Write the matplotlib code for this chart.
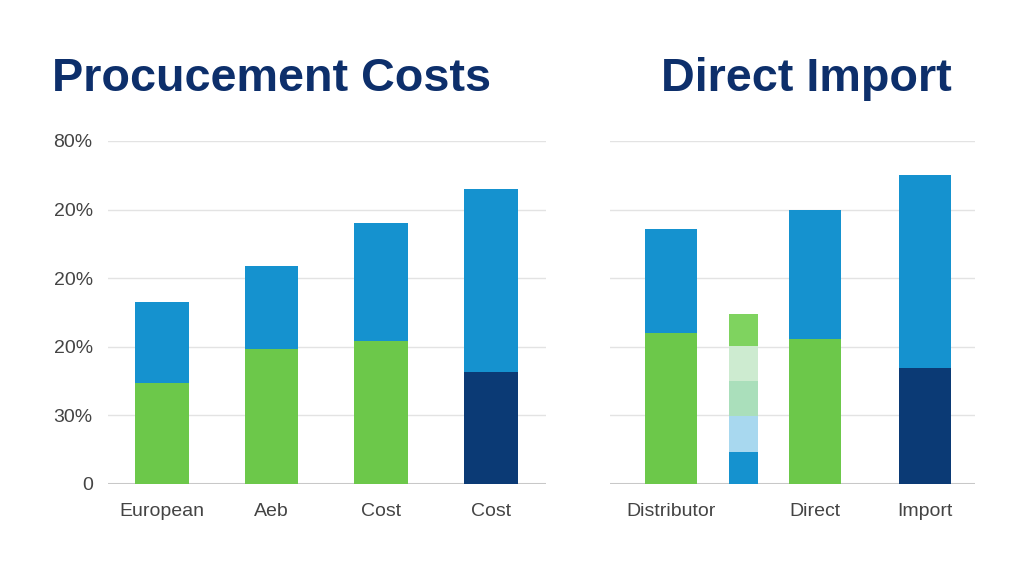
import matplotlib
matplotlib.use("Agg")
import matplotlib.pyplot as plt

# ---- data ----
left_title = "Procucement Costs"
right_title = "Direct Import"
ytick_labels = ["0", "30%", "20%", "20%", "20%", "80%"]

left_categories = ["European", "Aeb", "Cost", "Cost"]
left_base = [1.47, 1.97, 2.08, 1.63]
left_top = [1.18, 1.21, 1.72, 2.67]

right_categories = ["Distributor", "Direct", "Import"]
right_base = [2.20, 2.11, 1.69]
right_top = [1.52, 1.88, 2.81]

thin_segments = [0.47, 0.52, 0.51, 0.51, 0.47]

# ---- style ----
GREEN = "#6cc84a"
BLUE = "#1592cf"
NAVY = "#0b3a75"
TITLE = "#0d2f6b"
GRID = "#e3e3e3"
BASE = "#c8c8c8"
TXT = "#444444"
thin_colors = [BLUE, "#a8d8ef", "#aadfbb", "#cdebd0", "#7fd35f"]
left_base_colors = [GREEN, GREEN, GREEN, NAVY]
right_base_colors = [GREEN, GREEN, NAVY]

plt.rcParams['font.family'] = ['Liberation Sans', 'DejaVu Sans']

fig = plt.figure(figsize=(10.24, 5.85), dpi=100)
fig.patch.set_facecolor("white")

W, H = 1024, 585
y0, y1 = 484, 141
ax_l = fig.add_axes([108 / W, (H - y0) / H, 438 / W, (y0 - y1) / H])
ax_r = fig.add_axes([610 / W, (H - y0) / H, 365 / W, (y0 - y1) / H])

def style(ax, show_labels):
    ax.set_ylim(0, 5)
    ax.set_yticks(range(len(ytick_labels)))
    if show_labels:
        ax.set_yticklabels(ytick_labels, fontsize=14, color=TXT)
    else:
        ax.set_yticklabels([])
    ax.tick_params(axis='y', length=0, pad=11)
    ax.tick_params(axis='x', length=0, pad=14, labelsize=14, labelcolor=TXT)
    for s in ax.spines.values():
        s.set_visible(False)
    ax.grid(axis='y', color=GRID, linewidth=1.0)
    ax.set_axisbelow(True)
    ax.axhline(0, color=BASE, linewidth=2.2, zorder=1)

# left panel
xl = list(range(len(left_categories)))
ax_l.bar(xl, left_base, width=0.49, color=left_base_colors, zorder=2)
ax_l.bar(xl, left_top, bottom=left_base, width=0.49, color=BLUE, zorder=2)
ax_l.set_xlim(-0.49, 3.5)
ax_l.set_xticks(xl)
ax_l.set_xticklabels(left_categories)
style(ax_l, True)

# right panel
xr = [0.0, 1.31, 2.31]
ax_r.bar(xr, right_base, width=0.47, color=right_base_colors, zorder=2)
ax_r.bar(xr, right_top, bottom=right_base, width=0.47, color=BLUE, zorder=2)
bottom = 0.0
for seg, c in zip(thin_segments, thin_colors):
    ax_r.bar(0.66, seg, bottom=bottom, width=0.27, color=c, zorder=2)
    bottom += seg
ax_r.set_xlim(-0.555, 2.764)
ax_r.set_xticks(xr)
ax_r.set_xticklabels(right_categories)
style(ax_r, False)

fig.text(52 / W, 1 - 79 / H, left_title, fontsize=33.7, fontweight='bold',
         color=TITLE, ha='left', va='center')
fig.text(952 / W, 1 - 79 / H, right_title, fontsize=33.7, fontweight='bold',
         color=TITLE, ha='right', va='center')

fig.savefig("out.png", dpi=100, facecolor="white")
